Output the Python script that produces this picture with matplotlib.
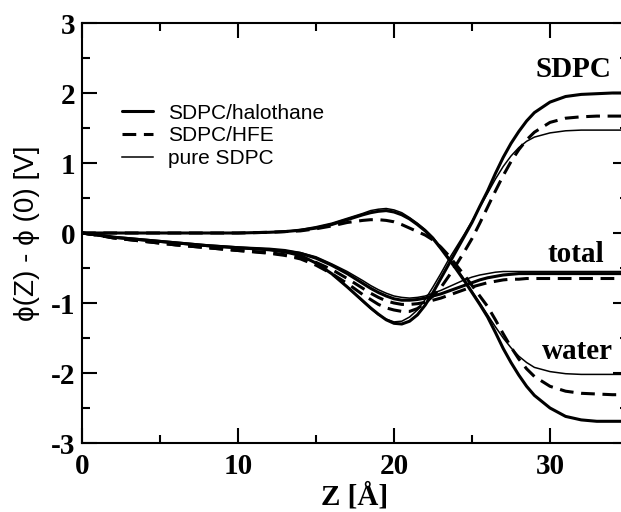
import numpy as np
import matplotlib
matplotlib.use("Agg")
import matplotlib.pyplot as plt
from matplotlib.ticker import MultipleLocator

plt.rcParams["axes.unicode_minus"] = False

# grid in Z [A]
z = [0, 1, 2, 4, 6, 8, 10, 12, 13, 14, 15, 16, 17, 18,
     18.5, 19, 19.5, 20, 20.5, 21, 21.5, 22, 22.5, 23, 23.5, 24, 24.5,
     25, 25.5, 26, 26.5, 27, 27.5, 28, 28.5, 29, 30, 31, 32, 33, 34, 35]

# SDPC lipid contribution
lip_hal = [0, -0.03, -0.06, -0.10, -0.14, -0.18, -0.21, -0.24, -0.27, -0.32, -0.43, -0.58, -0.77, -0.97,
           -1.07, -1.16, -1.24, -1.29, -1.30, -1.26, -1.17, -1.03, -0.85, -0.65, -0.45, -0.25, -0.05,
           0.15, 0.38, 0.60, 0.85, 1.08, 1.28, 1.45, 1.60, 1.72, 1.87, 1.95, 1.98, 1.99, 2.00, 2.00]
lip_hfe = [0, -0.03, -0.07, -0.12, -0.17, -0.21, -0.25, -0.29, -0.32, -0.37, -0.46, -0.58, -0.72, -0.88,
           -0.95, -1.02, -1.07, -1.10, -1.12, -1.12, -1.08, -1.00, -0.90, -0.78, -0.62, -0.45, -0.27,
           -0.08, 0.14, 0.37, 0.60, 0.82, 1.02, 1.19, 1.33, 1.44, 1.58, 1.64, 1.66, 1.67, 1.67, 1.67]
lip_pure = [0, -0.03, -0.06, -0.10, -0.14, -0.18, -0.21, -0.24, -0.27, -0.32, -0.43, -0.58, -0.77, -0.98,
            -1.08, -1.17, -1.23, -1.27, -1.26, -1.20, -1.10, -0.95, -0.77, -0.58, -0.38, -0.20, -0.02,
            0.17, 0.37, 0.57, 0.77, 0.95, 1.10, 1.22, 1.31, 1.37, 1.43, 1.46, 1.47, 1.47, 1.47, 1.47]

# water contribution
wat_hal = [0, 0, 0, 0, 0, 0, 0, 0.01, 0.02, 0.04, 0.07, 0.12, 0.19, 0.26,
           0.29, 0.31, 0.32, 0.30, 0.26, 0.20, 0.12, 0.03, -0.08, -0.22, -0.37, -0.52, -0.68,
           -0.85, -1.02, -1.20, -1.42, -1.65, -1.85, -2.03, -2.19, -2.32, -2.50, -2.62, -2.67, -2.69, -2.69, -2.69]
wat_hfe = [0, 0, 0, 0, 0, 0, 0, 0.01, 0.02, 0.03, 0.06, 0.10, 0.15, 0.18,
           0.19, 0.19, 0.18, 0.16, 0.12, 0.07, 0.02, -0.03, -0.10, -0.20, -0.32, -0.46, -0.60,
           -0.75, -0.90, -1.05, -1.24, -1.44, -1.63, -1.80, -1.94, -2.05, -2.19, -2.26, -2.29, -2.30, -2.31, -2.31]
wat_pure = [0, 0, 0, 0, 0, 0, 0, 0.01, 0.02, 0.05, 0.09, 0.14, 0.21, 0.28,
            0.32, 0.34, 0.35, 0.33, 0.29, 0.22, 0.14, 0.05, -0.06, -0.20, -0.35, -0.50, -0.66,
            -0.83, -1.00, -1.17, -1.34, -1.50, -1.64, -1.76, -1.85, -1.92, -1.98, -2.01, -2.02, -2.02, -2.02, -2.02]

# total
tot_hal = [0, -0.03, -0.06, -0.10, -0.14, -0.18, -0.21, -0.23, -0.25, -0.29, -0.36, -0.46, -0.58, -0.72,
           -0.79, -0.85, -0.90, -0.94, -0.96, -0.96, -0.95, -0.93, -0.90, -0.87, -0.83, -0.79, -0.75,
           -0.71, -0.67, -0.64, -0.62, -0.60, -0.59, -0.58, -0.58, -0.58, -0.58, -0.58, -0.58, -0.58, -0.58, -0.58]
tot_hfe = [0, -0.03, -0.07, -0.12, -0.17, -0.21, -0.25, -0.28, -0.31, -0.35, -0.42, -0.52, -0.65, -0.79,
           -0.86, -0.92, -0.97, -1.00, -1.02, -1.02, -1.01, -0.99, -0.96, -0.93, -0.89, -0.85, -0.81,
           -0.77, -0.74, -0.71, -0.69, -0.67, -0.66, -0.66, -0.65, -0.65, -0.65, -0.65, -0.65, -0.65, -0.65, -0.65]
tot_pure = [0, -0.03, -0.06, -0.10, -0.14, -0.18, -0.21, -0.23, -0.25, -0.28, -0.34, -0.44, -0.55, -0.68,
            -0.75, -0.81, -0.86, -0.90, -0.92, -0.93, -0.92, -0.90, -0.86, -0.82, -0.77, -0.72, -0.67,
            -0.63, -0.60, -0.58, -0.56, -0.55, -0.55, -0.55, -0.55, -0.55, -0.55, -0.55, -0.55, -0.55, -0.55, -0.55]

serif = ["Liberation Serif", "DejaVu Serif"]
sans = ["Liberation Sans", "DejaVu Sans"]

fig = plt.figure(figsize=(6.21, 5.12), dpi=100)
ax = fig.add_axes([82 / 621, 69 / 512, 546 / 621, 420 / 512])

thick = dict(color="black", lw=2.2, solid_joinstyle="round", solid_capstyle="round")
dash = dict(color="black", lw=2.2, linestyle=(0, (4.5, 2.5)))
thin = dict(color="black", lw=1.1, solid_joinstyle="round")

for i, (h, f, p) in enumerate([(lip_hal, lip_hfe, lip_pure),
                               (wat_hal, wat_hfe, wat_pure),
                               (tot_hal, tot_hfe, tot_pure)]):
    ax.plot(z, h, label="SDPC/halothane" if i == 0 else None, **thick)
    ax.plot(z, f, label="SDPC/HFE" if i == 0 else None, **dash)
    ax.plot(z, p, label="pure SDPC" if i == 0 else None, **thin)

ax.set_xlim(0, 35)
ax.set_ylim(-3, 3)
ax.xaxis.set_major_locator(MultipleLocator(10))
ax.xaxis.set_minor_locator(MultipleLocator(5))
ax.yaxis.set_major_locator(MultipleLocator(1))
ax.yaxis.set_minor_locator(MultipleLocator(0.5))
ax.tick_params(which="both", direction="in", top=True, right=True, width=1.5)
ax.tick_params(which="major", length=11)
ax.tick_params(which="minor", length=6)
ax.tick_params(axis="x", pad=7)
ax.tick_params(axis="y", pad=5)
for s in ax.spines.values():
    s.set_linewidth(1.5)

for lab in ax.get_xticklabels() + ax.get_yticklabels():
    lab.set_fontfamily(serif)
    lab.set_fontweight("bold")
    lab.set_fontsize(21)

ax.set_xlabel("Z [Å]", fontfamily=serif, fontweight="bold", fontsize=21, labelpad=2)
ax.set_ylabel("ϕ(Z) - ϕ (0) [V]", fontfamily=sans, fontsize=20)
ax.yaxis.set_label_coords(-0.077, 0.5)

ax.text(29.04, 2.23, "SDPC", fontfamily=serif, fontweight="bold", fontsize=21)
ax.text(29.87, -0.42, "total", fontfamily=serif, fontweight="bold", fontsize=21)
ax.text(29.5, -1.8, "water", fontfamily=serif, fontweight="bold", fontsize=21)

ax.legend(loc="upper left", bbox_to_anchor=(40 / 546, 0.808), frameon=False,
          prop={"family": sans, "size": 15}, handlelength=1.5, handletextpad=0.7,
          labelspacing=0.18, borderpad=0, borderaxespad=0)

fig.savefig("out.png", dpi=100)
